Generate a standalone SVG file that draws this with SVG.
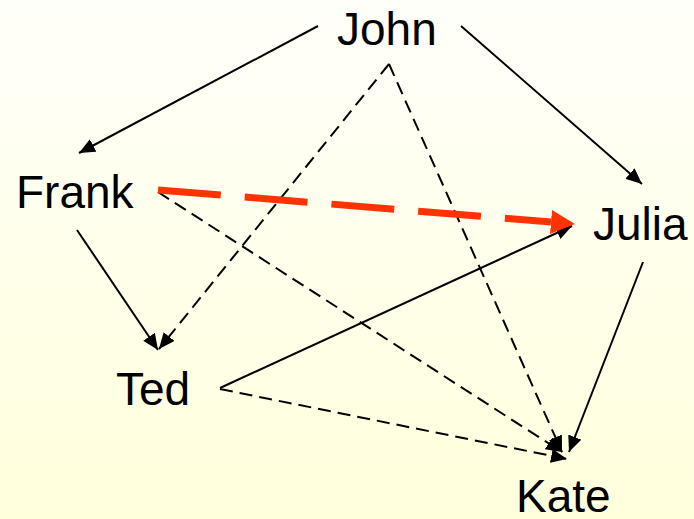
<svg xmlns="http://www.w3.org/2000/svg" width="694" height="519" viewBox="0 0 694 519">
<defs>
<linearGradient id="bg" x1="0" y1="0" x2="0" y2="1">
<stop offset="0" stop-color="#fffffa"/>
<stop offset="1" stop-color="#ffffdc"/>
</linearGradient>
<marker id="ah" markerUnits="userSpaceOnUse" markerWidth="16" markerHeight="14" refX="16" refY="7" orient="auto">
<path d="M0,0 L16,7 L0,14 z" fill="#000"/>
</marker>
<marker id="ahr" markerUnits="userSpaceOnUse" markerWidth="24" markerHeight="24" refX="0" refY="12" orient="auto">
<path d="M0,0 L24,12 L0,24 z" fill="#ff3300"/>
</marker>
</defs>
<style>
.lbl{font-family:"Liberation Sans",Arial,sans-serif;font-size:46px;fill:#000}
.s{stroke:#000;stroke-width:2;fill:none}
.d{stroke:#000;stroke-width:2;fill:none;stroke-dasharray:13 7}
.r{stroke:#ff3300;stroke-width:7;fill:none;stroke-dasharray:63 24}
</style>
<rect width="694" height="519" fill="url(#bg)"/>
<g id="connectors">
<line class="s" x1="318" y1="26" x2="79" y2="153" marker-end="url(#ah)"/>
<line class="s" x1="461" y1="26" x2="642" y2="184" marker-end="url(#ah)"/>
<line class="d" x1="389" y1="64" x2="159" y2="349" marker-end="url(#ah)"/>
<line class="d" x1="389" y1="64" x2="562" y2="452" marker-end="url(#ah)"/>
<line class="s" x1="77" y1="230" x2="158" y2="350" marker-end="url(#ah)"/>
<line class="d" x1="158" y1="192" x2="562" y2="452" marker-end="url(#ah)"/>
<line class="s" x1="220" y1="388" x2="572" y2="226" marker-end="url(#ah)"/>
<line class="d" x1="220" y1="389" x2="567" y2="459" marker-end="url(#ah)"/>
<line class="s" x1="643" y1="262" x2="569" y2="452" marker-end="url(#ah)"/>
<line class="r" x1="158" y1="190" x2="551" y2="222" marker-end="url(#ahr)"/>
</g>
<g id="john"><text class="lbl" x="337" y="45">John</text></g>
<g id="frank"><text class="lbl" x="16" y="208">Frank</text></g>
<g id="julia"><text class="lbl" x="593" y="240">Julia</text></g>
<g id="ted"><text class="lbl" x="116" y="405">Ted</text></g>
<g id="kate"><text class="lbl" x="516" y="512">Kate</text></g>
</svg>
